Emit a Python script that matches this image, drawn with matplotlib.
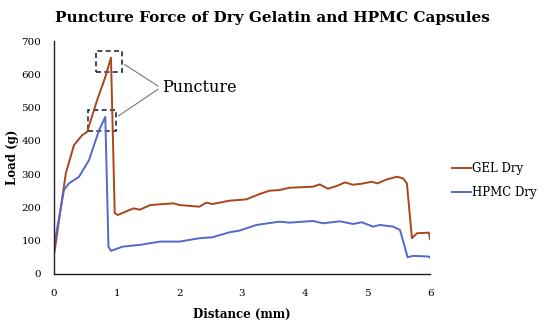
import matplotlib
matplotlib.use("Agg")
import matplotlib.pyplot as plt
from matplotlib.patches import Rectangle

plt.rcParams['font.family'] = ['DejaVu Serif']

gel_x = [0.01, 0.19, 0.32, 0.45, 0.53, 0.68, 0.82, 0.91, 0.97, 1.02, 1.27, 1.37, 1.54, 1.91,
         2.0, 2.32, 2.43, 2.53, 2.80, 3.07, 3.28, 3.44, 3.60, 3.76, 4.13, 4.24, 4.37, 4.51,
         4.64, 4.77, 4.91, 5.07, 5.16, 5.31, 5.47, 5.57, 5.63, 5.71, 5.79, 5.98, 6.0]
gel_y = [67, 302, 387, 417, 427, 517, 592, 650, 183, 177, 197, 193, 207, 212,
         207, 202, 214, 210, 220, 224, 240, 250, 252, 259, 262, 269, 256, 264,
         275, 268, 271, 277, 272, 284, 292, 287, 272, 107, 122, 124, 104]

hpmc_x = [0.01, 0.16, 0.24, 0.40, 0.56, 0.72, 0.82, 0.87, 0.91, 1.10, 1.37, 1.69, 2.0, 2.32,
          2.53, 2.80, 2.96, 3.23, 3.60, 3.76, 4.13, 4.29, 4.56, 4.77, 4.91, 5.09, 5.20,
          5.41, 5.52, 5.58, 5.64, 5.73, 5.98, 6.0]
hpmc_y = [92, 252, 272, 292, 342, 432, 472, 82, 69, 82, 87, 97, 97, 107,
          110, 125, 130, 147, 157, 154, 159, 152, 158, 150, 155, 142, 147,
          142, 132, 92, 50, 54, 52, 48]

series_labels = ["GEL Dry", "HPMC Dry"]
x_ticks = [0, 1, 2, 3, 4, 5, 6]
y_ticks = [0, 100, 200, 300, 400, 500, 600, 700]

fig = plt.figure(figsize=(5.5, 3.26), dpi=100)
ax = fig.add_axes([0.098, 0.16, 0.684, 0.714])

ax.plot(gel_x, gel_y, color='#A8461C', lw=1.4, label=series_labels[0])
ax.plot(hpmc_x, hpmc_y, color='#5468CC', lw=1.4, label=series_labels[1])

ax.set_xlim(0, 6)
ax.set_ylim(0, 700)
ax.set_xticks(x_ticks)
ax.set_yticks(y_ticks)
ax.tick_params(axis='x', length=0, labelsize=7.5, pad=11)
ax.tick_params(axis='y', length=0, labelsize=7.5, pad=9)
for s in ['top', 'right']:
    ax.spines[s].set_visible(False)
for s in ['left', 'bottom']:
    ax.spines[s].set_color('#222222')
    ax.spines[s].set_linewidth(1.0)

ax.set_xlabel('Distance (mm)', fontsize=8.5, fontweight='bold', labelpad=7)
ax.set_ylabel('Load (g)', fontsize=8.5, fontweight='bold', labelpad=2)

fig.text(0.495, 0.945, 'Puncture Force of Dry Gelatin and HPMC Capsules',
         ha='center', va='center', fontsize=11, fontweight='bold')

# dashed boxes
box1 = Rectangle((0.67, 608), 0.42, 62, fill=False, ls=(0, (3, 2)), lw=1.2, ec='#1F2A44')
box2 = Rectangle((0.55, 430), 0.44, 63, fill=False, ls=(0, (3, 2)), lw=1.2, ec='#1F2A44')
ax.add_patch(box1)
ax.add_patch(box2)

ax.text(1.73, 560, 'Puncture', fontsize=11.5, va='center', ha='left')
ax.annotate('', xy=(1.09, 634), xytext=(1.7, 560),
            arrowprops=dict(arrowstyle='-', color='#777777', lw=0.8))
ax.annotate('', xy=(0.99, 470), xytext=(1.7, 560),
            arrowprops=dict(arrowstyle='-', color='#777777', lw=0.8))

fig.legend(loc='upper left', bbox_to_anchor=(0.802, 0.535), frameon=False,
           fontsize=8.5, handlelength=1.6, handletextpad=0.1, labelspacing=0.95)

fig.savefig('out.png', dpi=100)
